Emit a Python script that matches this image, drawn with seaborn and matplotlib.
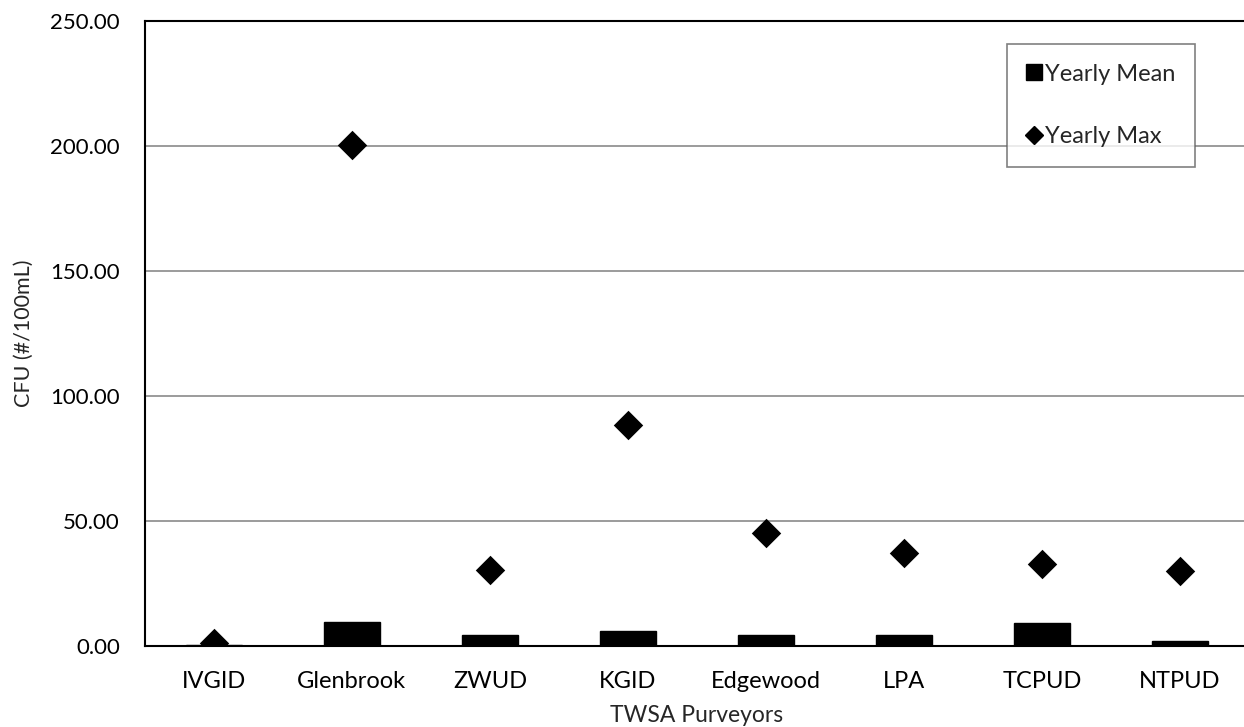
import matplotlib
matplotlib.use("Agg")
import matplotlib.pyplot as plt
import seaborn as sns
import numpy as np
from matplotlib.lines import Line2D
from matplotlib.ticker import FormatStrFormatter, FixedLocator

# data
purveyors = ["IVGID", "Glenbrook", "ZWUD", "KGID", "Edgewood", "LPA", "TCPUD", "NTPUD"]
yearly_mean = [0.4, 9.3, 4.4, 6.0, 4.3, 4.2, 8.9, 1.9]
yearly_max = [1.0, 200.5, 30.4, 88.4, 45.2, 37.2, 32.8, 30.0]

sns.set_style("white")
plt.rcParams['font.family'] = ['Lato', 'DejaVu Sans']

fig, ax = plt.subplots(figsize=(12.44, 7.27), dpi=100)
# plot area runs slightly past the right edge of the picture, as in the original
fig.subplots_adjust(left=0.1165, right=1.004, top=0.971, bottom=0.112)

sns.barplot(x=purveyors, y=yearly_mean, color="black", edgecolor="black",
            width=0.41, saturation=1, ax=ax, zorder=3)
sns.scatterplot(x=purveyors, y=yearly_max, marker="D", color="black",
                s=225, edgecolor="black", linewidth=0, ax=ax, zorder=4)

ax.set_ylim(0, 250)
ax.set_xlim(-0.5, len(purveyors) - 0.5)
ax.set_yticks(np.arange(0, 251, 50))
ax.yaxis.set_major_formatter(FormatStrFormatter("%.2f"))
ax.yaxis.grid(True, color="#808080", linewidth=1.1, zorder=0)
ax.set_axisbelow(True)

# ticks at category boundaries
ax.xaxis.set_minor_locator(FixedLocator(np.arange(-0.5, len(purveyors), 1.0)))
ax.tick_params(axis="x", which="major", length=0, labelsize=17, pad=18)
ax.tick_params(axis="x", which="minor", length=9, width=1, color="black", direction="out")
ax.tick_params(axis="y", which="major", length=8, width=1, color="#808080", direction="out",
               labelsize=16, pad=10)
ax.tick_params(axis="both", colors="black", which="major")

for side in ["left", "bottom", "top"]:
    ax.spines[side].set_color("black")
    ax.spines[side].set_linewidth(1.5)
ax.spines["right"].set_visible(False)

ax.set_xlabel("TWSA Purveyors", fontsize=16.5, labelpad=10)
ax.set_ylabel("CFU (#/100mL)", fontsize=15.5, labelpad=12)

handles = [
    Line2D([], [], marker="s", color="black", linestyle="none", markersize=11.5),
    Line2D([], [], marker="D", color="black", linestyle="none", markersize=9.5),
]
leg = ax.legend(handles, ["Yearly Mean", "Yearly Max"], loc="upper left",
                bbox_to_anchor=(0.781, 0.964), fontsize=17, frameon=True, fancybox=False,
                handlelength=0.6, handletextpad=0.15, labelspacing=1.75,
                borderpad=0.85, borderaxespad=0)
leg.get_frame().set_edgecolor("#606060")
leg.get_frame().set_linewidth(1.2)
leg.set_zorder(5)

fig.savefig("out.png", dpi=100)
